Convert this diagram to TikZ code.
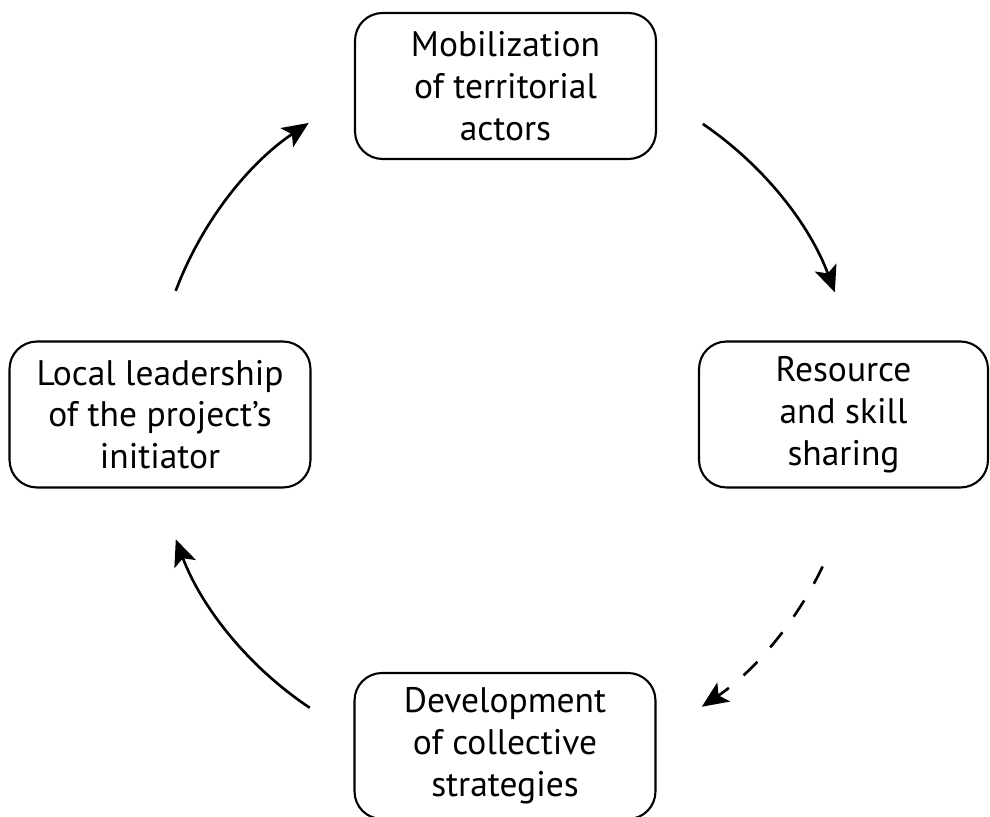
\documentclass[tikz,border=0pt]{standalone}
\usepackage{fontspec}
\setmainfont{PT Sans}
\usetikzlibrary{arrows.meta,calc}
\begin{document}
\begin{tikzpicture}[x=0.02cm,y=0.02cm,
  box/.style={draw, line width=1.2pt, rounded corners=0.55cm,
    minimum width=6.02cm, minimum height=2.92cm, align=center,
    font=\fontsize{20.2}{23.8}\selectfont, inner sep=0pt},
  flow/.style={line width=1.5pt, -{Stealth[length=15pt,width=13pt,inset=3.5pt]}},
  dashflow/.style={flow, dash pattern=on 11pt off 11pt}]
\clip (0,0) rectangle (990,817);
\fill[white] (0,0) rectangle (990,817);
\node[box] (top) at (505.5,731) {Mobilization\\of territorial\\actors};
\node[box] (left) at (160,402.5) {Local leadership\\of the project's\\initiator};
\node[box, minimum width=5.78cm] (right) at (843.5,402.5) {Resource\\and skill\\sharing};
\node[box] (bottom) at (505,71) {Development\\of collective\\strategies};
\coordinate (c) at (505,402);
\coordinate (s1) at ($(c)+(159.35:7.04cm)$);
\coordinate (s2) at ($(c)+(55.8:7.04cm)$);
\coordinate (s3) at ($(c)+(-25.5:7.04cm)$);
\coordinate (s4) at ($(c)+(-123.7:7.04cm)$);
\draw[flow] (s1) arc[start angle=159.35, end angle=123.9, radius=7.04cm];
\draw[flow] (s2) arc[start angle=55.8, end angle=20.4, radius=7.04cm];
\draw[dashflow] (s3) arc[start angle=-25.5, end angle=-56, radius=7.04cm];
\draw[flow] (s4) arc[start angle=-123.7, end angle=-159.3, radius=7.04cm];
\end{tikzpicture}
\end{document}
